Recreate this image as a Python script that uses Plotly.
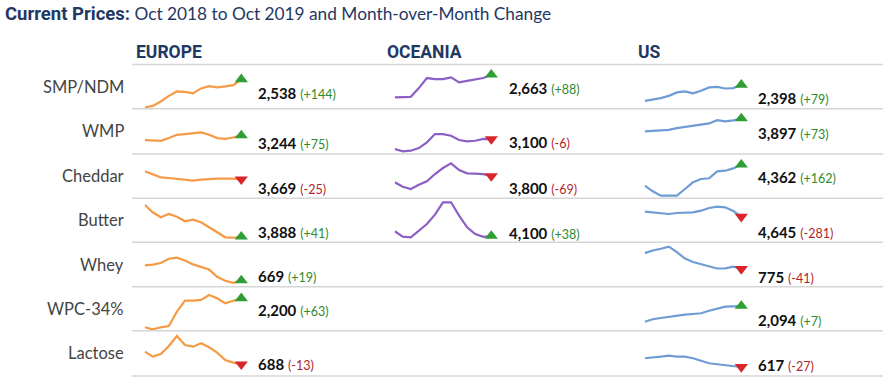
import plotly.graph_objects as go

# ---------------- data ----------------
months = ["Oct 2018", "Nov 2018", "Dec 2018", "Jan 2019", "Feb 2019", "Mar 2019", "Apr 2019",
          "May 2019", "Jun 2019", "Jul 2019", "Aug 2019", "Sep 2019", "Oct 2019"]
products = ["SMP/NDM", "WMP", "Cheddar", "Butter", "Whey", "WPC-34%", "Lactose"]
regions = ["EUROPE", "OCEANIA", "US"]

# Europe ($/MT)
eu_smp = [1838, 1878, 1988, 2128, 2238, 2228, 2188, 2313, 2371, 2338, 2363, 2394, 2538]
eu_wmp = [3079, 3055, 3055, 3149, 3265, 3290, 3325, 3349, 3265, 3149, 3125, 3169, 3244]
eu_cheddar = [3965, 3865, 3743, 3717, 3691, 3669, 3617, 3654, 3680, 3691, 3691, 3694, 3669]
eu_butter = [5168, 4864, 4664, 4796, 4688, 4504, 4568, 4464, 4264, 4064, 3864, 3847, 3888]
eu_whey = [791, 797, 810, 845, 853, 831, 799, 778, 757, 698, 666, 650, 669]
eu_wpc = [1562, 1518, 1562, 1591, 1905, 2147, 2147, 2163, 2273, 2200, 2090, 2137, 2200]
eu_lactose = [789, 749, 770, 834, 914, 842, 829, 856, 824, 781, 722, 701, 688]
eu_change = [144, 75, -25, 41, 19, 63, -13]

# Oceania ($/MT)
oc_smp = [2053, 2053, 2069, 2304, 2574, 2547, 2547, 2593, 2458, 2500, 2535, 2575, 2663]
oc_wmp = [2800, 2731, 2749, 2830, 3001, 3250, 3250, 3199, 3070, 3031, 3049, 3106, 3100]
oc_cheddar = [3561, 3393, 3306, 3469, 3599, 3876, 4104, 4283, 4028, 3903, 3890, 3869, 3800]
oc_butter = [4312, 4068, 4042, 4339, 4640, 5059, 5617, 5617, 5014, 4492, 4190, 4062, 4100]
oc_change = [88, -6, -69, 38]

# US ($/MT)
us_smp = [2014, 2038, 2079, 2134, 2216, 2240, 2192, 2254, 2336, 2350, 2310, 2319, 2398]
us_wmp = [3390, 3413, 3413, 3452, 3519, 3569, 3624, 3663, 3702, 3831, 3780, 3824, 3897]
us_cheddar = [3438, 3192, 2998, 2985, 2998, 3293, 3588, 3733, 3764, 4072, 4098, 4200, 4362]
us_butter = [4895, 4865, 4815, 4780, 4830, 4865, 4865, 4945, 5080, 5145, 5115, 4926, 4645]
us_whey = [919, 943, 959, 979, 928, 869, 838, 817, 793, 779, 781, 795, 775]
us_wpc = [1764, 1815, 1842, 1869, 1890, 1911, 1926, 1941, 1995, 2037, 2079, 2087, 2094]
us_lactose = [678, 682, 689, 696, 689, 689, 678, 661, 643, 636, 630, 625, 617]
us_change = [79, 73, 162, -281, -41, 7, -27]

# ---------------- layout config ----------------
W, H = 892, 385
def fx(x):
    return x / W
def fy(y):
    return 1 - y / H

row_edges = [64.5, 108.7, 154, 198.3, 242.3, 286.7, 330.7, 376]
spark_x = {"EUROPE": (144.7, 241.3), "OCEANIA": (394.7, 491.3), "US": (644.7, 741.3)}
text_x = {"EUROPE": 256, "OCEANIA": 507, "US": 756}
header_x = {"EUROPE": 134, "OCEANIA": 385, "US": 636}
line_color = {"EUROPE": "#f59a45", "OCEANIA": "#8d60c6", "US": "#6f9dd3"}

# value ranges of each sparkline's vertical axis (bottom, top of its row)
eu_yrange = [(1808, 2908), (2590, 4182), (2966, 4605), (3664, 5424), (618, 978), (1487, 2455), (594, 957)]
oc_yrange = [(1750, 2938), (2650, 4015), (2953, 4636), (3816, 5797)]
us_yrange = [(1827, 2883), (2505, 4279), (2884, 4833), (3365, 5565), (613, 1018), (1575, 2499), (554, 871)]
# vertical centre of each value label (px)
eu_label_y = [93, 142.7, 187.7, 231.7, 276, 310, 364.3]
oc_label_y = [88.3, 141.7, 187.7, 233.3]
us_label_y = [98.3, 132.7, 177.3, 231.7, 276.7, 320, 365]

series = {
    "EUROPE": [eu_smp, eu_wmp, eu_cheddar, eu_butter, eu_whey, eu_wpc, eu_lactose],
    "OCEANIA": [oc_smp, oc_wmp, oc_cheddar, oc_butter],
    "US": [us_smp, us_wmp, us_cheddar, us_butter, us_whey, us_wpc, us_lactose],
}
changes = {"EUROPE": eu_change, "OCEANIA": oc_change, "US": us_change}
yranges = {"EUROPE": eu_yrange, "OCEANIA": oc_yrange, "US": us_yrange}
label_ys = {"EUROPE": eu_label_y, "OCEANIA": oc_label_y, "US": us_label_y}

NAVY = "#1f3864"
HEAD = "Roboto, Lato, sans-serif"
BODY = "Lato, Carlito, Noto Sans, sans-serif"
UP_TRI, DOWN_TRI = "#2f9e34", "#d9262b"
UP_TXT, DOWN_TXT = "#2e8b2e", "#b01f2c"

fig = go.Figure()
annotations = []
shapes = []
k = 0
for reg in regions:
    x0, x1 = spark_x[reg]
    for i, vals in enumerate(series[reg]):
        k += 1
        ax = "" if k == 1 else str(k)
        chg = changes[reg][i]
        up = chg > 0
        fig.add_trace(go.Scatter(
            x=months, y=vals, mode="lines",
            line=dict(color=line_color[reg], width=2.2),
            xaxis="x" + ax, yaxis="y" + ax, showlegend=False, cliponaxis=False,
            hoverinfo="x+y"))
        fig.add_trace(go.Scatter(
            x=[months[-1]], y=[vals[-1]], mode="markers",
            marker=dict(symbol="triangle-up" if up else "triangle-down", size=11.5,
                        color=UP_TRI if up else DOWN_TRI),
            xaxis="x" + ax, yaxis="y" + ax, showlegend=False, cliponaxis=False,
            hoverinfo="skip"))
        lo, hi = yranges[reg][i]
        fig.layout["xaxis" + ax] = dict(domain=[fx(x0), fx(x1)], range=[0, len(months) - 1],
                                        type="category", visible=False, fixedrange=True)
        fig.layout["yaxis" + ax] = dict(domain=[fy(row_edges[i + 1]), fy(row_edges[i])],
                                        range=[lo, hi], visible=False, fixedrange=True)
        sign = "+" if up else ""
        annotations.append(dict(
            xref="paper", yref="paper", x=fx(text_x[reg]), y=fy(label_ys[reg][i]),
            xanchor="left", yanchor="middle", showarrow=False,
            text=("<b>%s</b> <span style='font-size:12.5px;color:%s'>(%s%d)</span>"
                  % (f"{vals[-1]:,}", UP_TXT if up else DOWN_TXT, sign, chg)),
            font=dict(family=BODY, size=15, color="#111111")))

# row labels
for i, p in enumerate(products):
    annotations.append(dict(
        xref="paper", yref="paper", x=fx(126), y=fy((row_edges[i] + row_edges[i + 1]) / 2),
        xanchor="right", yanchor="middle", showarrow=False, text=p,
        font=dict(family=BODY, size=16.5, color="#444444")))

# column headers
for reg in regions:
    annotations.append(dict(
        xref="paper", yref="paper", x=fx(header_x[reg]), y=fy(52),
        xanchor="left", yanchor="middle", showarrow=False, text="<b>%s</b>" % reg,
        font=dict(family=HEAD, size=17.5, color=NAVY)))

# title
annotations.append(dict(
    xref="paper", yref="paper", x=fx(3), y=fy(14), xanchor="left", yanchor="middle",
    showarrow=False,
    text=("<span style='font-family:Roboto;font-weight:bold;font-size:18.5px'>"
          "Current Prices:</span> Oct 2018 to Oct 2019 and Month-over-Month Change"),
    font=dict(family=BODY, size=17.3, color=NAVY)))

# row separators
for y in row_edges:
    shapes.append(dict(type="line", xref="paper", yref="paper", x0=fx(132), x1=fx(883),
                       y0=fy(y), y1=fy(y), line=dict(color="#d6d6d6", width=1.5)))

fig.update_layout(width=W, height=H, margin=dict(l=0, r=0, t=0, b=0),
                  paper_bgcolor="white", plot_bgcolor="white",
                  annotations=annotations, shapes=shapes, showlegend=False)
# remove the browser's default page margin so the figure fills the window exactly
fig.write_html("out.html", config={"displayModeBar": False},
               post_script="document.body.style.margin='0px';"
                           "document.body.style.overflow='hidden';")
